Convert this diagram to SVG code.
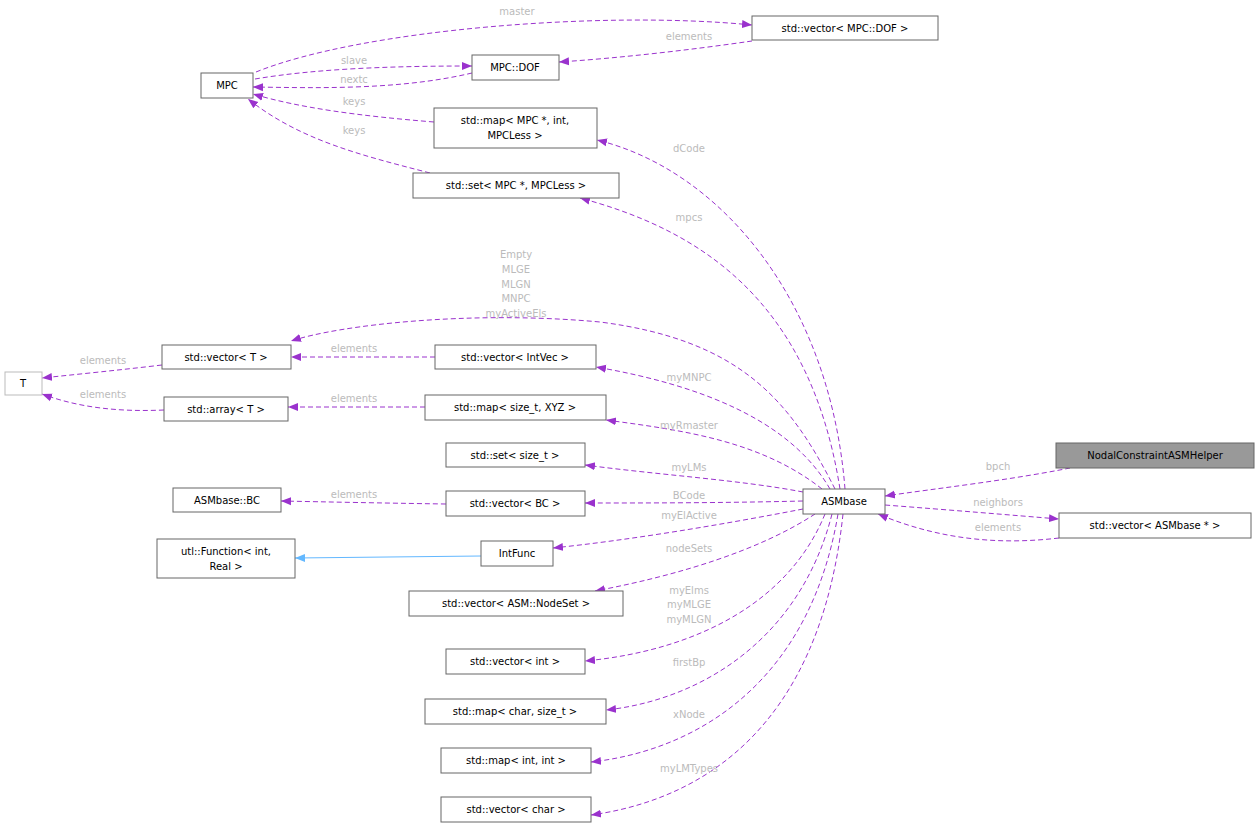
<svg xmlns="http://www.w3.org/2000/svg" width="1260" height="829" viewBox="0 0 1260 829">
<style>
.n rect{fill:#fff;stroke:#666;stroke-width:1}
.n text,.l text{font-family:"DejaVu Sans",sans-serif;font-size:10px;text-anchor:middle}
.n text{fill:#000}
.l text{fill:#bbb}
.e{fill:none;stroke:#9a32cd;stroke-width:1;stroke-dasharray:5,3}
</style>
<defs>
<marker id="a" viewBox="0 0 10 10" refX="10" refY="5" markerWidth="10" markerHeight="10" markerUnits="userSpaceOnUse" orient="auto"><path d="M0,1L10,5L0,9z" fill="#9a32cd"/></marker>
<marker id="b" viewBox="0 0 10 10" refX="10" refY="5" markerWidth="10" markerHeight="10" markerUnits="userSpaceOnUse" orient="auto"><path d="M0,1L10,5L0,9z" fill="#63b8ff"/></marker>
</defs>
<g id="connectors">
<path class="e" marker-end="url(#a)" d="M256,72 C360,30 600,10 752,25"/>
<path class="e" marker-end="url(#a)" d="M752,41 C690,50 620,58 559,62"/>
<path class="e" marker-end="url(#a)" d="M255,79 C320,68 400,66 472,66"/>
<path class="e" marker-end="url(#a)" d="M472,73 C400,90 320,88 253,87"/>
<path class="e" marker-end="url(#a)" d="M434,122 C360,116 300,108 253,94"/>
<path class="e" marker-end="url(#a)" d="M430,173 C360,155 300,140 248,99"/>
<path class="e" marker-end="url(#a)" d="M845,489 C830,300 720,170 597,140"/>
<path class="e" marker-end="url(#a)" d="M840,489 C810,300 700,230 580,198"/>
<path class="e" marker-end="url(#a)" d="M835,489 C790,400 740,340 600,322 C470,310 340,325 291,341"/>
<path class="e" marker-end="url(#a)" d="M830,489 C790,420 700,385 596,367"/>
<path class="e" marker-end="url(#a)" d="M822,489 C760,440 680,430 606,420"/>
<path class="e" marker-end="url(#a)" d="M803,492 C740,480 660,475 585,465"/>
<path class="e" marker-end="url(#a)" d="M803,501 C720,503 650,503 585,503"/>
<path class="e" marker-end="url(#a)" d="M803,509 C720,525 630,540 553,548"/>
<path class="e" marker-end="url(#a)" d="M815,514 C760,550 680,575 595,591"/>
<path class="e" marker-end="url(#a)" d="M825,514 C790,600 700,650 585,661"/>
<path class="e" marker-end="url(#a)" d="M832,514 C800,640 700,700 606,710"/>
<path class="e" marker-end="url(#a)" d="M838,514 C810,680 700,750 591,762"/>
<path class="e" marker-end="url(#a)" d="M843,514 C820,730 700,800 591,815"/>
<path class="e" marker-end="url(#a)" d="M1070,468 C1010,480 940,488 885,496"/>
<path class="e" marker-end="url(#a)" d="M885,505 C950,510 1010,515 1059,519"/>
<path class="e" marker-end="url(#a)" d="M1059,538 C1000,545 940,540 878,514"/>
<path fill="none" stroke="#63b8ff" marker-end="url(#b)" d="M481,556 L295,558"/>
<path class="e" marker-end="url(#a)" d="M162,365 C120,370 80,374 42,378"/>
<path class="e" marker-end="url(#a)" d="M164,410 C120,412 80,408 42,394"/>
<path class="e" marker-end="url(#a)" d="M435,357 L291,357"/>
<path class="e" marker-end="url(#a)" d="M425,407 L288,407"/>
<path class="e" marker-end="url(#a)" d="M446,504 C380,503 330,502 281,501"/>
</g>
<g class="l" id="labels">
<text x="517" y="15">master</text>
<text x="689" y="40">elements</text>
<text x="354" y="64">slave</text>
<text x="354" y="83">nextc</text>
<text x="354" y="105">keys</text>
<text x="354" y="134">keys</text>
<text x="689" y="152">dCode</text>
<text x="689" y="221">mpcs</text>
<text x="516" y="258">Empty</text>
<text x="516" y="273">MLGE</text>
<text x="516" y="288">MLGN</text>
<text x="516" y="302">MNPC</text>
<text x="516" y="317">myActiveEls</text>
<text x="103" y="364">elements</text>
<text x="103" y="398">elements</text>
<text x="354" y="352">elements</text>
<text x="354" y="402">elements</text>
<text x="689" y="381">myMNPC</text>
<text x="689" y="429">myRmaster</text>
<text x="689" y="471">myLMs</text>
<text x="354" y="498">elements</text>
<text x="689" y="499">BCode</text>
<text x="689" y="519">myElActive</text>
<text x="689" y="552">nodeSets</text>
<text x="689" y="594">myElms</text>
<text x="689" y="608">myMLGE</text>
<text x="689" y="623">myMLGN</text>
<text x="689" y="666">firstBp</text>
<text x="689" y="718">xNode</text>
<text x="689" y="772">myLMTypes</text>
<text x="998" y="470">bpch</text>
<text x="998" y="506">neighbors</text>
<text x="998" y="531">elements</text>
</g>
<g class="n" id="MPC"><rect x="201" y="73" width="52" height="25"/><text x="227" y="89">MPC</text></g>
<g class="n" id="MPCDOF"><rect x="472" y="55" width="87" height="25"/><text x="515" y="71">MPC::DOF</text></g>
<g class="n" id="vecDOF"><rect x="752" y="16" width="186" height="24"/><text x="845" y="32">std::vector&lt; MPC::DOF &gt;</text></g>
<g class="n" id="mapMPC"><rect x="434" y="108" width="163" height="40"/><text x="515" y="124">std::map&lt; MPC *, int,</text><text x="515" y="139">MPCLess &gt;</text></g>
<g class="n" id="setMPC"><rect x="413" y="173" width="206" height="25"/><text x="516" y="189">std::set&lt; MPC *, MPCLess &gt;</text></g>
<g class="n" id="T"><rect x="5" y="372" width="37" height="23" style="stroke:#bbb"/><text x="23" y="387">T</text></g>
<g class="n" id="vecT"><rect x="162" y="345" width="129" height="24"/><text x="226" y="361">std::vector&lt; T &gt;</text></g>
<g class="n" id="arrT"><rect x="164" y="397" width="124" height="24"/><text x="226" y="413">std::array&lt; T &gt;</text></g>
<g class="n" id="vecIntVec"><rect x="435" y="345" width="161" height="24"/><text x="515" y="361">std::vector&lt; IntVec &gt;</text></g>
<g class="n" id="mapXYZ"><rect x="425" y="395" width="181" height="25"/><text x="515" y="411">std::map&lt; size_t, XYZ &gt;</text></g>
<g class="n" id="setSize"><rect x="446" y="443" width="139" height="24"/><text x="515" y="459">std::set&lt; size_t &gt;</text></g>
<g class="n" id="BC"><rect x="173" y="488" width="108" height="24"/><text x="227" y="504">ASMbase::BC</text></g>
<g class="n" id="vecBC"><rect x="446" y="491" width="139" height="25"/><text x="515" y="507">std::vector&lt; BC &gt;</text></g>
<g class="n" id="utlFunc"><rect x="157" y="539" width="138" height="39"/><text x="226" y="555">utl::Function&lt; int,</text><text x="226" y="570">Real &gt;</text></g>
<g class="n" id="IntFunc"><rect x="481" y="541" width="72" height="25"/><text x="517" y="557">IntFunc</text></g>
<g class="n" id="vecNodeSet"><rect x="409" y="591" width="214" height="25"/><text x="516" y="607">std::vector&lt; ASM::NodeSet &gt;</text></g>
<g class="n" id="vecInt"><rect x="446" y="649" width="139" height="25"/><text x="515" y="665">std::vector&lt; int &gt;</text></g>
<g class="n" id="mapChar"><rect x="425" y="699" width="181" height="25"/><text x="515" y="715">std::map&lt; char, size_t &gt;</text></g>
<g class="n" id="mapInt"><rect x="441" y="748" width="150" height="25"/><text x="516" y="764">std::map&lt; int, int &gt;</text></g>
<g class="n" id="vecChar"><rect x="441" y="797" width="150" height="25"/><text x="516" y="813">std::vector&lt; char &gt;</text></g>
<g class="n" id="ASMbase"><rect x="803" y="489" width="82" height="25"/><text x="844" y="505">ASMbase</text></g>
<g class="n" id="Nodal"><rect x="1056" y="443" width="198" height="25" style="fill:#999"/><text x="1155" y="459">NodalConstraintASMHelper</text></g>
<g class="n" id="vecASM"><rect x="1059" y="513" width="192" height="25"/><text x="1155" y="529">std::vector&lt; ASMbase * &gt;</text></g>
</svg>
